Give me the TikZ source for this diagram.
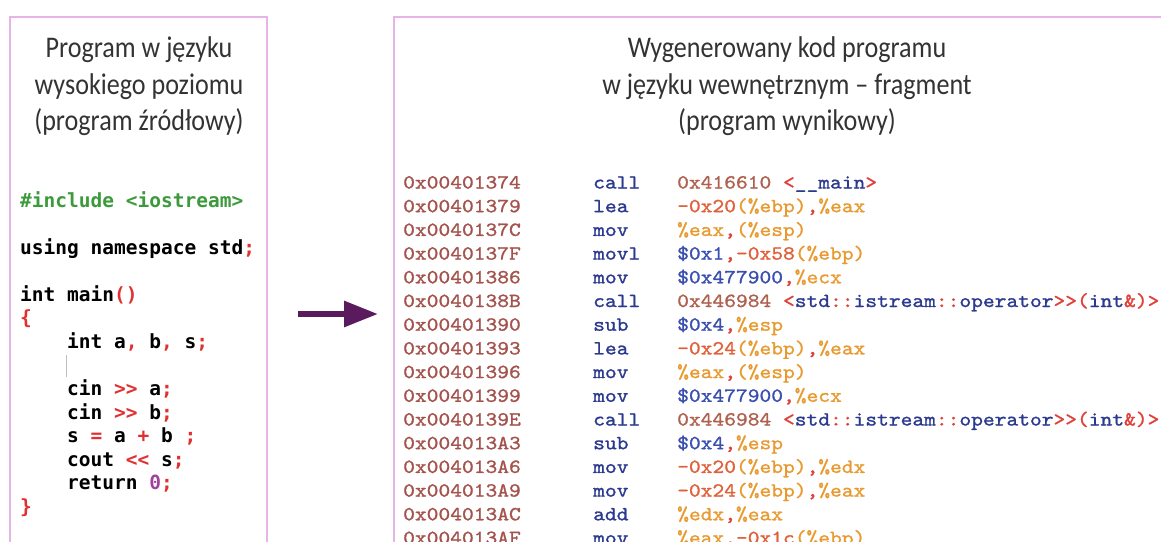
\documentclass[tikz,border=0pt]{standalone}
\usepackage{fontspec}
\usetikzlibrary{arrows.meta}
\newfontfamily\headfont[FakeStretch=0.87]{Carlito}
\newfontfamily\srcfont{DejaVu Sans Mono}
\newfontfamily\asmfont[Extension=.otf,FakeStretch=1.12,FakeBold=1.2]{lmmono10-regular}

\definecolor{frame}{HTML}{E6B4E6}
\definecolor{arrowc}{HTML}{5A1A5E}
\definecolor{headc}{HTML}{333333}
% source code colours
\definecolor{ppc}{HTML}{3C9A3C}
\definecolor{opc}{HTML}{E03030}
\definecolor{litc}{HTML}{A040A0}
% disassembly colours
\definecolor{adrc}{HTML}{A4524C}
\definecolor{mnc}{HTML}{2B3A8F}
\definecolor{immc}{HTML}{3A4FB0}
\definecolor{regc}{HTML}{E89A30}
\definecolor{offc}{HTML}{E0603A}
\definecolor{punc}{HTML}{E0403A}
\definecolor{tgtc}{HTML}{B0604E}

\newcommand\kp[1]{\textcolor{opc}{#1}}
\newcommand\opR[1]{\textcolor{regc}{#1}}
\newcommand\opI[1]{\textcolor{immc}{#1}}
\newcommand\opO[1]{\textcolor{offc}{#1}}
\newcommand\opP[1]{\textcolor{punc}{#1}}
\newcommand\opT[1]{\textcolor{tgtc}{#1}}
\newcommand\opS[1]{\textcolor{mnc}{#1}}

\tikzset{
  panel/.style={draw=frame, line width=2.6pt},
  head/.style={anchor=base, inner sep=0pt, text=headc, font=\headfont\fontsize{30}{33}\selectfont},
  src/.style={anchor=base west, inner sep=0pt, font=\srcfont\bfseries\fontsize{19.5}{22}\selectfont},
  adr/.style={anchor=base west, inner sep=0pt, text=adrc, font=\asmfont\fontsize{20}{22}\selectfont},
  mn/.style={anchor=base west, inner sep=0pt, text=mnc, font=\asmfont\fontsize{20}{22}\selectfont},
  opd/.style={anchor=base west, inner sep=0pt, font=\asmfont\fontsize{20}{22}\selectfont},
  flow/.style={draw=arrowc, line width=6pt, -{Triangle[length=34pt,width=25pt]}}
}

\begin{document}
\begin{tikzpicture}[x=1pt,y=-1pt]
\useasboundingbox (0,0) rectangle (1161,541);
\begin{scope}
\clip (0,0) rectangle (1161,541);

% panels
\draw[panel] (10,17) rectangle (267,580);
\draw[panel] (394,17) rectangle (1200,580);

% left panel heading
\node[head] (lt1) at (139,57) {Program w języku};
\node[head] (lt2) at (139,94) {wysokiego poziomu};
\node[head] (lt3) at (139,130) {(program źródłowy)};

% right panel heading
\node[head] (rt1) at (787,57) {Wygenerowany kod programu};
\node[head] (rt2) at (787,94) {w języku wewnętrznym – fragment};
\node[head] (rt3) at (787,130) {(program wynikowy)};

% source program
\node[src, text=ppc] (s1) at (20,207) {\#include <iostream>};
\node[src] (s2) at (20,254) {using namespace std\kp{;}};
\node[src] (s3) at (20,301) {int main\kp{()}};
\node[src] (s4) at (20,324.6) {\kp{\{}};
\node[src] (s5) at (67,348.2) {int a\kp{,} b\kp{,} s\kp{;}};
\node[src] (s6) at (67,395.4) {cin \kp{>>} a\kp{;}};
\node[src] (s7) at (67,419) {cin \kp{>>} b\kp{;}};
\node[src] (s8) at (67,442.6) {s \kp{=} a \kp{+} b \kp{;}};
\node[src] (s9) at (67,466.2) {cout \kp{<<} s\kp{;}};
\node[src] (s10) at (67,489.8) {return \textcolor{litc}{0}\kp{;}};
\node[src] (s11) at (20,513.4) {\kp{\}}};
% editor caret
\coordinate (cur1) at (66,355);
\coordinate (cur2) at (66,377);
\draw[black!25, line width=0.8pt] (cur1) -- (cur2);

% translation arrow
\coordinate (arrS) at (298,314);
\coordinate (arrE) at (378,314);
\draw[flow] (arrS) -- (arrE);

% disassembly listing
\node[adr] (a1)  at (403,188.5) {0x00401374};
\node[adr] (a2)  at (403,212.2) {0x00401379};
\node[adr] (a3)  at (403,235.9) {0x0040137C};
\node[adr] (a4)  at (403,259.6) {0x0040137F};
\node[adr] (a5)  at (403,283.3) {0x00401386};
\node[adr] (a6)  at (403,307.0) {0x0040138B};
\node[adr] (a7)  at (403,330.7) {0x00401390};
\node[adr] (a8)  at (403,354.4) {0x00401393};
\node[adr] (a9)  at (403,378.1) {0x00401396};
\node[adr] (a10) at (403,401.8) {0x00401399};
\node[adr] (a11) at (403,425.5) {0x0040139E};
\node[adr] (a12) at (403,449.2) {0x004013A3};
\node[adr] (a13) at (403,472.9) {0x004013A6};
\node[adr] (a14) at (403,496.6) {0x004013A9};
\node[adr] (a15) at (403,520.3) {0x004013AC};
\node[adr] (a16) at (403,544.0) {0x004013AF};

\node[mn] (m1)  at (593,188.5) {call};
\node[mn] (m2)  at (593,212.2) {lea};
\node[mn] (m3)  at (593,235.9) {mov};
\node[mn] (m4)  at (593,259.6) {movl};
\node[mn] (m5)  at (593,283.3) {mov};
\node[mn] (m6)  at (593,307.0) {call};
\node[mn] (m7)  at (593,330.7) {sub};
\node[mn] (m8)  at (593,354.4) {lea};
\node[mn] (m9)  at (593,378.1) {mov};
\node[mn] (m10) at (593,401.8) {mov};
\node[mn] (m11) at (593,425.5) {call};
\node[mn] (m12) at (593,449.2) {sub};
\node[mn] (m13) at (593,472.9) {mov};
\node[mn] (m14) at (593,496.6) {mov};
\node[mn] (m15) at (593,520.3) {add};
\node[mn] (m16) at (593,544.0) {mov};

\node[opd] (o1)  at (677,188.5) {\opT{0x416610} \opP{<}\opS{\_\_main}\opP{>}};
\node[opd] (o2)  at (677,212.2) {\opO{-0x20}\opR{(\%ebp)}\opP{,}\opR{\%eax}};
\node[opd] (o3)  at (677,235.9) {\opR{\%eax}\opP{,}\opR{(\%esp)}};
\node[opd] (o4)  at (677,259.6) {\opI{\$0x1}\opP{,}\opO{-0x58}\opR{(\%ebp)}};
\node[opd] (o5)  at (677,283.3) {\opI{\$0x477900}\opP{,}\opR{\%ecx}};
\node[opd] (o6)  at (677,307.0) {\opT{0x446984} \opP{<}\opS{std}\opP{::}\opS{istream}\opP{::}\opS{operator}\opP{>>(}\opS{int}\opP{\&)>}};
\node[opd] (o7)  at (677,330.7) {\opI{\$0x4}\opP{,}\opR{\%esp}};
\node[opd] (o8)  at (677,354.4) {\opO{-0x24}\opR{(\%ebp)}\opP{,}\opR{\%eax}};
\node[opd] (o9)  at (677,378.1) {\opR{\%eax}\opP{,}\opR{(\%esp)}};
\node[opd] (o10) at (677,401.8) {\opI{\$0x477900}\opP{,}\opR{\%ecx}};
\node[opd] (o11) at (677,425.5) {\opT{0x446984} \opP{<}\opS{std}\opP{::}\opS{istream}\opP{::}\opS{operator}\opP{>>(}\opS{int}\opP{\&)>}};
\node[opd] (o12) at (677,449.2) {\opI{\$0x4}\opP{,}\opR{\%esp}};
\node[opd] (o13) at (677,472.9) {\opO{-0x20}\opR{(\%ebp)}\opP{,}\opR{\%edx}};
\node[opd] (o14) at (677,496.6) {\opO{-0x24}\opR{(\%ebp)}\opP{,}\opR{\%eax}};
\node[opd] (o15) at (677,520.3) {\opR{\%edx}\opP{,}\opR{\%eax}};
\node[opd] (o16) at (677,544.0) {\opR{\%eax}\opP{,}\opO{-0x1c}\opR{(\%ebp)}};
\end{scope}
\end{tikzpicture}
\end{document}
